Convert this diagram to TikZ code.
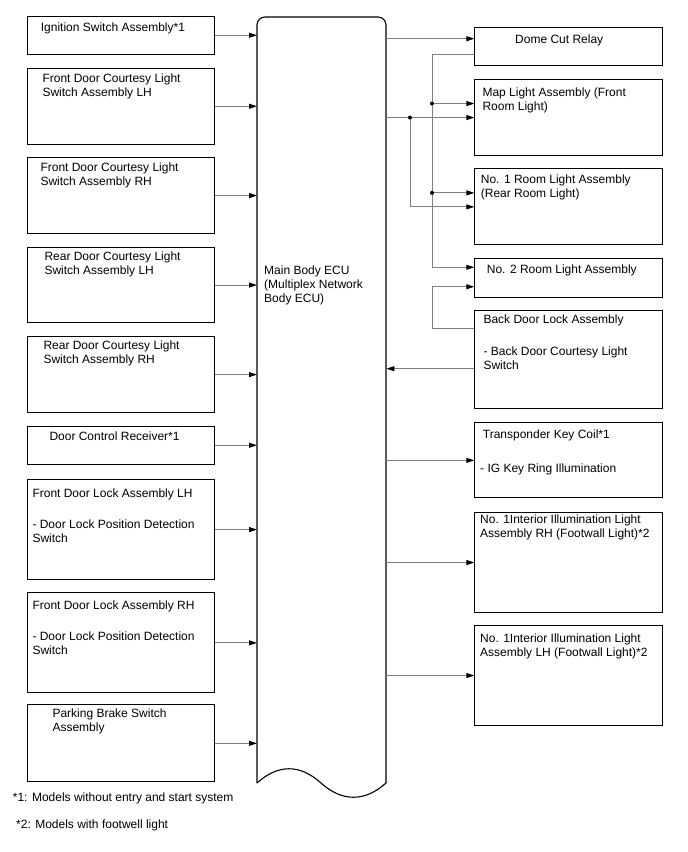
\documentclass[tikz,border=0pt]{standalone}
\usepackage{fontspec}
\setmainfont{Liberation Sans}
\usetikzlibrary{arrows.meta,calc}
\tikzset{
    unit/.style={box/.style={draw,line width=1.1pt,inner sep=0pt,anchor=north west}},
    unit,
    txt/.style={anchor=north west,inner sep=0pt,align=left,font=\fontsize{12}{14}\selectfont},
    wire/.style={draw=gray,line width=0.9pt,-{Triangle[length=8pt,width=5pt,color=black,fill=black]}},
    bus/.style={draw=gray,line width=0.9pt},
    dot/.style={fill=black}
}
\begin{document}
\begin{tikzpicture}[x=1pt,y=-1pt]
                \useasboundingbox (0,0) rectangle (688,852);
                % main body ECU
                \node[inner sep=0pt,anchor=north west,minimum width=129pt,minimum height=766pt] (ecu) at (257,17) {};
                \draw[line width=1.1pt,rounded corners=8pt] (257,783) -- (257,17) -- (386,17) -- (386,783);
                \draw[line width=1.1pt] (257,783) .. controls (278,764) and (300,764) .. (321,783)
                    .. controls (342,802) and (365,802) .. (386,783);
                \node[txt] (ecu-t) at (264,266) {Main Body ECU\\(Multiplex Network\\Body ECU)};
                % inputs
                \begin{scope}[every node/.append style={minimum width=187pt}]
                    \node[box,minimum height=38pt] (ign) at (27,15.7) {};
                    \node[box,minimum height=76pt] (fdcl) at (27,67.7) {};
                    \node[box,minimum height=75.5pt] (fdcr) at (27,157.3) {};
                    \node[box,minimum height=75.6pt] (rdcl) at (27,246.7) {};
                    \node[box,minimum height=75.4pt] (rdcr) at (27,336.3) {};
                    \node[box,minimum height=38pt] (dcr) at (27,425.7) {};
                    \node[box,minimum height=100pt] (fdll) at (27,479) {};
                    \node[box,minimum height=100pt] (fdlr) at (27,592.3) {};
                    \node[box,minimum height=77pt] (pkb) at (27,704.3) {};
                \end{scope}
                \node[txt] (ign-t) at (40.7,22.7) {Ignition Switch Assembly*1};
                \node[txt] (fdcl-t) at (42.3,73.3) {Front Door Courtesy Light\\Switch Assembly LH};
                \node[txt] (fdcr-t) at (40.3,162.7) {Front Door Courtesy Light\\Switch Assembly RH};
                \node[txt] (rdcl-t) at (44.3,251.7) {Rear Door Courtesy Light\\Switch Assembly LH};
                \node[txt] (rdcr-t) at (43.3,340.7) {Rear Door Courtesy Light\\Switch Assembly RH};
                \node[txt] (dcr-t) at (49.3,431.7) {Door Control Receiver*1};
                \node[txt] (fdll-t) at (32.3,488.3) {Front Door Lock Assembly LH\\[17pt]- Door Lock Position Detection\\Switch};
                \node[txt] (fdlr-t) at (32.3,600.7) {Front Door Lock Assembly RH\\[17pt]- Door Lock Position Detection\\Switch};
                \node[txt] (pkb-t) at (52.3,709) {Parking Brake Switch\\Assembly};
                \foreach \src in {ign,fdcl,fdcr,rdcl,rdcr,dcr,fdll,fdlr,pkb}
                    \draw[wire] (\src.east) -- (\src.east -| ecu.west);
                % outputs
                \begin{scope}[every node/.append style={minimum width=188pt}]
                    \node[box,minimum height=37.7pt] (dome) at (474.3,27.3) {};
                    \node[box,minimum height=76pt] (map) at (474.3,79) {};
                    \node[box,minimum height=76pt] (room1) at (474.3,168.3) {};
                    \node[box,minimum height=39pt] (room2) at (474.3,257.7) {};
                    \node[box,minimum height=98.3pt] (back) at (474.3,310) {};
                    \node[box,minimum height=75pt] (trans) at (474.3,422.3) {};
                    \node[box,minimum height=100pt] (intr) at (474.3,512) {};
                    \node[box,minimum height=100pt] (intl) at (474.3,625) {};
                \end{scope}
                \node[txt] (dome-t) at (515,35) {Dome Cut Relay};
                \node[txt] (map-t) at (482.3,87.7) {Map Light Assembly (Front\\Room Light)};
                \node[txt] (room1-t) at (480.7,175) {No. 1 Room Light Assembly\\(Rear Room Light)};
                \node[txt] (room2-t) at (486.7,264.3) {No. 2 Room Light Assembly};
                \node[txt] (back-t) at (483.3,315) {Back Door Lock Assembly\\[17.7pt]- Back Door Courtesy Light\\Switch};
                \node[txt] (trans-t) at (480,430) {\hspace{2.7pt}Transponder Key Coil*1\\[19.3pt]- IG Key Ring Illumination};
                \node[txt] (intr-t) at (480,515) {No. 1Interior Illumination Light\\Assembly RH (Footwall Light)*2};
                \node[txt] (intl-t) at (480,634) {No. 1Interior Illumination Light\\Assembly LH (Footwall Light)*2};
                % junction lines
                \coordinate (ja) at (410,0);
                \coordinate (jb) at (432,0);
                \coordinate (dome-in) at ([yshift=8pt]dome.west);
                \coordinate (dome-out) at ([yshift=-8pt]dome.west);
                \coordinate (map-in) at ([yshift=14pt]map.west);
                \coordinate (room1-in) at ([yshift=14pt]room1.west);
                \coordinate (room2-a) at ([yshift=10.5pt]room2.west);
                \coordinate (room2-b) at ([yshift=-9pt]room2.west);
                \coordinate (back-out) at ([yshift=31.5pt]back.west);
                \coordinate (back-sw) at ([yshift=-9pt]back.west);
                \draw[wire] (dome-in -| ecu.east) -- (dome-in);
                \draw[wire] (dome-out) -| (jb |- room2-a) -- (room2-a);
                \draw[wire] (jb |- map-in) -- (map-in);
                \draw[wire] (jb |- room1-in) -- (room1-in);
                \fill[dot] (jb |- map-in) circle (2pt) (jb |- room1-in) circle (2pt);
                \draw[wire] (map.west -| ecu.east) -- (map.west);
                \draw[wire] (ja |- map.west) -- (ja |- room1.west) -- (room1.west);
                \fill[dot] (ja |- map.west) circle (2pt);
                \draw[wire] (back-out) -| (jb |- room2-b) -- (room2-b);
                \draw[wire] (back-sw) -- (back-sw -| ecu.east);
                \foreach \dst in {trans,intr,intl}
                    \draw[wire] (\dst.west -| ecu.east) -- (\dst.west);
                % notes
                \node[txt] (note1) at (12.7,792.7) {*1: Models without entry and start system};
                \node[txt] (note2) at (16,819.3) {*2: Models with footwell light};
            \end{tikzpicture}
\end{document}
